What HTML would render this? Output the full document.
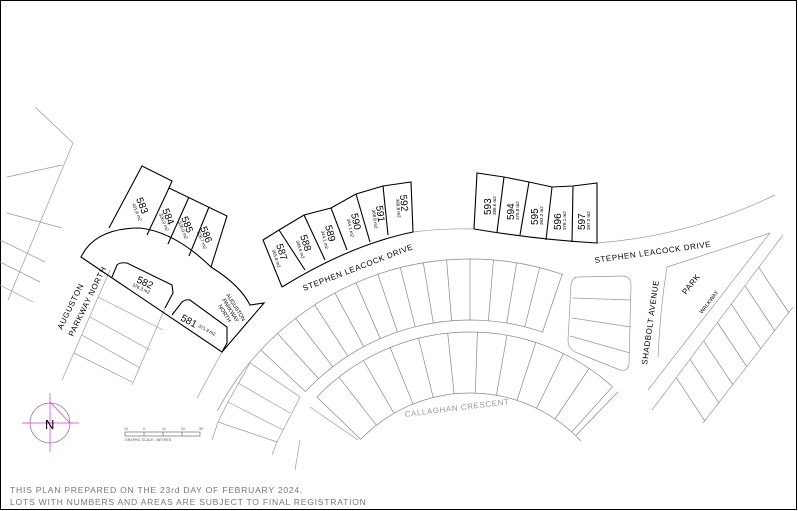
<!DOCTYPE html>
<html><head><meta charset="utf-8"><style>
html,body{margin:0;padding:0;background:#fff;}
svg{display:block;}
text{font-family:"Liberation Sans",sans-serif;}
</style></head><body>
<svg id="s" width="798" height="511" viewBox="0 0 798 511" xmlns="http://www.w3.org/2000/svg">
<rect x="0.5" y="0.5" width="796" height="509" fill="#fff" stroke="#000" stroke-width="1"/>
<g id="grey" fill="none" stroke="#999" stroke-width="0.7">
<path d="M35 107 L73 143 L8 300"/>
<path d="M7 213 L62 228"/>
<path d="M7 177 L62 165"/>
<path d="M0 240 L45 262"/>
<path d="M0 262 L40 282"/>
<path d="M0 285 L33 302"/>
<path d="M110 270 L62 380"/>
<path d="M98 297 L163 330"/>
<path d="M90 317 L150 350"/>
<path d="M82 335 L140 368"/>
<path d="M74 353 L132 382"/>
<path d="M165 308 L132 385"/>
<path d="M222 352 L197 398"/>
<path d="M413 232 Q445 228 474 229"/>
<path d="M597 243 Q690 236 775 195"/>
<path d="M667 267 Q720 250 770 233"/>
<path d="M667 267 Q660 310 658 357"/>
<path d="M770 233 L648 390"/>
<path d="M783 235 L652 410"/>
<path d="M793 307 L703 423"/>
<path d="M578 277 L625 276 Q631 278 631 285 L629 365 Q627 372 620 370 L575 352 Q568 348 568 340 L571 285 Q572 277 578 277 Z"/>
<path d="M573 298 L631 300"/>
<path d="M572 318 L631 327"/>
<path d="M570 336 L630 353"/>
<path d="M250 363 L228 402 L218 422 L212 440"/>
<path d="M250 363 L300 397 L277 442 L272 455"/>
<path d="M238 383 L290 413"/>
<path d="M228 402 L283 430"/>
<path d="M218 422 L277 442"/>
<path d="M310 407 L358 440"/>
<path d="M300 440 L295 470"/>
</g>
<g id="rings" fill="none" stroke="#888" stroke-width="0.7"></g>
<g fill="none" stroke="#000" stroke-width="1.1">
<path d="M81 257 Q95 228 140 228 Q175 232 211 267 Q240 285 250 305 L264 303 L222 352 Z"/>
<path d="M109 228 L142 166 L172 181 L169 188 L227 216 L211 267"/>
<path d="M169 188 L147 235"/>
<path d="M189 197 L168 244"/>
<path d="M209 207 L189 256"/>
<path d="M112 277 L117 265 Q120 262 127 263 L172 285 L173 293 L165 308"/>
<path d="M172 315 L182 302 Q186 299 190 300 L227 327 L227 343 L222 352"/>
<path d="M282 287 L263 240 L279 230 L304 215 L331 208 L356 194 L383 186 L411 182 L413 232 Q350 245 282 287"/>
<path d="M279 230 L305 270"/>
<path d="M304 215 L325 260"/>
<path d="M331 208 L347 250"/>
<path d="M356 194 L370 242"/>
<path d="M383 186 L388 235"/>
<path d="M474 229 L477 173 L504 177 L529 182 L552 187 L573 186 L597 183 L597 243 Q540 240 474 229"/>
<path d="M504 177 L497 232"/>
<path d="M529 182 L520 235"/>
<path d="M552 187 L546 240"/>
<path d="M573 186 L572 242"/>
</g>
<g fill="#000" font-size="10">
<text transform="translate(136,199) rotate(68)">583</text>
<text transform="translate(162,210) rotate(68)">584</text>
<text transform="translate(181,218) rotate(68)">585</text>
<text transform="translate(200,228) rotate(68)">586</text>
<text transform="translate(276,245) rotate(72)">587</text>
<text transform="translate(300,236) rotate(72)">588</text>
<text transform="translate(325,226) rotate(76)">589</text>
<text transform="translate(351,214) rotate(78)">590</text>
<text transform="translate(376,206) rotate(82)">591</text>
<text transform="translate(400,195) rotate(85)">592</text>
<text transform="translate(491,215) rotate(-90)">593</text>
<text transform="translate(514,220) rotate(-90)">594</text>
<text transform="translate(538,225) rotate(-90)">595</text>
<text transform="translate(561,230) rotate(-90)">596</text>
<text transform="translate(585,230) rotate(-90)">597</text>
<text transform="translate(136,282) rotate(25)">582</text>
<text transform="translate(180,320) rotate(28)">581</text>
</g>
<g fill="#000" font-size="4.5">
<text transform="translate(132,204) rotate(68)">401.6 m2</text>
<text transform="translate(159,214) rotate(68)">326.0 m2</text>
<text transform="translate(178,222) rotate(68)">326.0 m2</text>
<text transform="translate(197,232) rotate(68)">326.7 m2</text>
<text transform="translate(272,250) rotate(72)">355.8 m2</text>
<text transform="translate(296,241) rotate(72)">349.6 m2</text>
<text transform="translate(321,231) rotate(76)">344.1 m2</text>
<text transform="translate(347,219) rotate(78)">344.1 m2</text>
<text transform="translate(372,210) rotate(82)">368.8 m2</text>
<text transform="translate(396,199) rotate(85)">368.8 m2</text>
<text transform="translate(496,215) rotate(-90)">388.6 m2</text>
<text transform="translate(519,220) rotate(-90)">375.8 m2</text>
<text transform="translate(543,225) rotate(-90)">383.3 m2</text>
<text transform="translate(566,230) rotate(-90)">378.1 m2</text>
<text transform="translate(590,230) rotate(-90)">387.3 m2</text>
<text transform="translate(132,286) rotate(25)">376.3 m2</text>
<text transform="translate(198,327) rotate(28)">371.9 m2</text>
</g>
<g fill="#000" font-size="8" letter-spacing="0.6">
<text transform="translate(304,291) rotate(-21)">STEPHEN LEACOCK DRIVE</text>
<text transform="translate(595,263) rotate(-8)">STEPHEN LEACOCK DRIVE</text>
<text transform="translate(647,365) rotate(-82)">SHADBOLT AVENUE</text>
<text transform="translate(686,295) rotate(-52)">PARK</text>
<text transform="translate(62,330) rotate(-64)">AUGUSTON</text>
<text transform="translate(73,337) rotate(-64)">PARKWAY NORTH</text>
</g>
<g fill="#000" font-size="5.5">
<text transform="translate(702,314) rotate(-52)">WALKWAY</text>
<text transform="translate(226,295) rotate(58)">AUGUSTON</text>
<text transform="translate(222,300) rotate(58)">PARKWAY</text>
<text transform="translate(218,306) rotate(58)">NORTH</text>
</g>
<text transform="translate(405,417) rotate(-7)" font-size="8" fill="#999" letter-spacing="0.6">CALLAGHAN CRESCENT</text>
<g stroke="#c040c0" stroke-width="0.7" fill="none">
<circle cx="50" cy="423" r="20" stroke="#a060a0"/>
<line x1="22" y1="423" x2="79" y2="423"/>
<line x1="50" y1="393" x2="50" y2="452"/>
<line x1="50" y1="402" x2="70" y2="423"/>
</g>
<text x="45" y="429" font-size="13" fill="#000">N</text>
<g stroke="#555" stroke-width="0.6" fill="none">
<rect x="125" y="432" width="75" height="4"/>
<line x1="144" y1="432" x2="144" y2="436"/>
<line x1="163" y1="432" x2="163" y2="436"/>
<line x1="182" y1="432" x2="182" y2="436"/>
</g>
<g fill="#555" font-size="3.5"><text x="124" y="430">10</text><text x="143" y="430">0</text><text x="162" y="430">10</text><text x="181" y="430">20</text><text x="199" y="430">30</text><text x="125" y="441">GRAPHIC SCALE - METRES</text></g>
<g fill="#777" font-size="8.6" letter-spacing="0.75">
<text x="10" y="493">THIS PLAN PREPARED ON THE 23rd DAY OF FEBRUARY 2024.</text>
<text x="10" y="505">LOTS WITH NUMBERS AND AREAS ARE SUBJECT TO FINAL REGISTRATION</text>
</g>
</svg>
<script>
(function(){
var g=document.getElementById('rings'),cx=470,cy=545,NS='http://www.w3.org/2000/svg';
function pt(r,a){a=a*Math.PI/180;return [cx+r*Math.sin(a),cy-r*Math.cos(a)];}
function arc(r,a1,a2){var p=pt(r,a1),q=pt(r,a2);return 'M'+p[0].toFixed(1)+' '+p[1].toFixed(1)+' A'+r+' '+r+' 0 0 1 '+q[0].toFixed(1)+' '+q[1].toFixed(1);}
function add(d){var e=document.createElementNS(NS,'path');e.setAttribute('d',d);g.appendChild(e);}
function rad(r1,r2,a){var p=pt(r1,a),q=pt(r2,a);add('M'+p[0].toFixed(1)+' '+p[1].toFixed(1)+' L'+q[0].toFixed(1)+' '+q[1].toFixed(1));}
add(arc(286,-62,19));add(arc(225,-47,19));
for(var a=-47;a<=19.1;a+=4.7)rad(225,286,a);
add(arc(213,-46,42));add(arc(152,-46,47));
for(var b=-46;b<=42;b+=8)rad(152,213,b);
rad(152,213,44);
// walkway cross lines
var dx=0.55,dy=0.83;
for(var t=0.08;t<=1.0;t+=0.105){
 var px=783-131*t,py=235+175*t;
 // rear line: (793,307)->(703,423)
 var ax=793,ay=307,bx=-90,by=116;
 var den=dx*by-dy*bx; var k=((ax-px)*by-(ay-py)*bx)/den;
 var qx=px+k*dx,qy=py+k*dy;
 if(qy<307||qy>423)continue;
 add('M'+px.toFixed(1)+' '+py.toFixed(1)+' L'+qx.toFixed(1)+' '+qy.toFixed(1));
}
})();
</script>
</body></html>
